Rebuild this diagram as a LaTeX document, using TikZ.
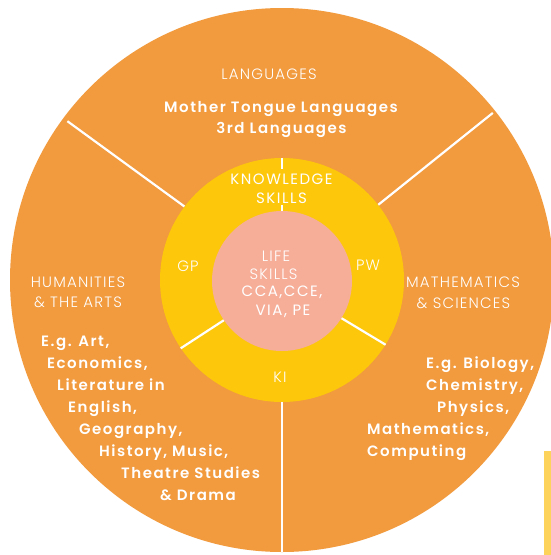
\documentclass[tikz,border=0pt]{standalone}
\usepackage{fontspec}
\setmainfont{Poppins}
\newfontfamily\lightfont[LetterSpace=8]{Poppins Light}
\newfontfamily\midfont[LetterSpace=10]{Poppins}
\newfontfamily\semifont[LetterSpace=10]{Poppins SemiBold}
\usetikzlibrary{calc}
\definecolor{orng}{HTML}{F19A3E}
\definecolor{ylw}{HTML}{FDC70C}
\definecolor{pnk}{HTML}{F6AE99}
\definecolor{barylw}{HTML}{FDD35C}
\tikzset{
  divider/.style={draw=white, line width=2.2pt},
  disc/.style={circle, inner sep=0pt, draw=none},
  lab/.style={text=white, inner sep=0pt, font=\lightfont\fontsize{15}{17}\selectfont},
  midlab/.style={text=white, inner sep=0pt, font=\midfont\fontsize{15}{17}\selectfont},
  listtxt/.style={text=white, inner sep=0pt, anchor=base west, font=\semifont\fontsize{15}{17}\selectfont},
}
\begin{document}
\begin{tikzpicture}[x=1pt,y=-1pt]
\useasboundingbox (0,0) rectangle (551,555);
\clip (0,0) rectangle (551,555);
\fill[white] (0,0) rectangle (551,555);
% discs
\node[disc, fill=orng, minimum size=544pt] (outer) at (282,280) {};
\node[disc, fill=ylw, minimum size=244pt] (ring) at (282,280) {};
\node[disc, fill=pnk, minimum size=140pt] (core) at (282,281) {};
% side bar
\fill[barylw] (544,451) rectangle (551,555);
% dividers
\coordinate (tlout) at ($(outer.center)+(143.5:267pt)$);
\coordinate (trout) at ($(outer.center)+(38.4:269pt)$);
\coordinate (toptick) at ($(ring.center)+(90:111pt)$);
\coordinate (lowtick) at ($(core.center)+(90:76pt)$);
\draw[divider] (ring.143.5) -- (tlout);
\draw[divider] (ring.38.4) -- (trout);
\draw[divider] (ring.270) -- (outer.270);
\draw[divider] (ring.90) -- (toptick);
\draw[divider] (lowtick) -- (core.90);
\draw[divider] (core.214) -- (ring.214);
\draw[divider] (core.328) -- (ring.328);
% top sector
\node[lab, anchor=base] (lang) at (269,79) {LANGUAGES};
\node[listtxt, anchor=base] (mtl) at (281,112.5) {Mother Tongue Languages};
\node[listtxt, anchor=base] (trd) at (281.5,133) {3rd Languages};
% ring
\node[midlab, anchor=base] (know) at (281.5,184.5) {KNOWLEDGE};
\node[midlab, anchor=base] (kskills) at (281.5,203) {SKILLS};
\node[lab, anchor=base] (gp) at (188,271) {GP};
\node[lab, anchor=base] (pw) at (368,270) {PW};
\node[lab, anchor=base] (ki) at (280,382) {KI};
% core
\node[lab, anchor=base] (life) at (276,261.5) {LIFE};
\node[lab, anchor=base] (lskills) at (273.5,279) {SKILLS};
\node[midlab, anchor=base] (cca) at (282,296) {CCA,CCE,};
\node[midlab, anchor=base] (via) at (283,315) {VIA, PE};
% humanities
\node[lab, anchor=base] (hum) at (78,287.5) {HUMANITIES};
\node[lab, anchor=base] (arts) at (78,307.5) {\& THE ARTS};
\node[listtxt] (h1) at (41,346) {E.g. Art,};
\node[listtxt] (h2) at (47,368) {Economics,};
\node[listtxt] (h3) at (57,390) {Literature in};
\node[listtxt] (h4) at (68,412) {English,};
\node[listtxt] (h5) at (79,434) {Geography,};
\node[listtxt] (h6) at (99,456) {History, Music,};
\node[listtxt] (h7) at (121,478) {Theatre Studies};
\node[listtxt] (h8) at (160,500) {\& Drama};
% sciences
\node[lab, anchor=base] (math) at (463,287.5) {MATHEMATICS};
\node[lab, anchor=base] (sci) at (463.5,308) {\& SCIENCES};
\node[listtxt] (s1) at (426,368) {E.g. Biology,};
\node[listtxt] (s2) at (426,390) {Chemistry,};
\node[listtxt] (s3) at (437,412) {Physics,};
\node[listtxt] (s4) at (367,434) {Mathematics,};
\node[listtxt] (s5) at (367,456) {Computing};
\end{tikzpicture}
\end{document}
